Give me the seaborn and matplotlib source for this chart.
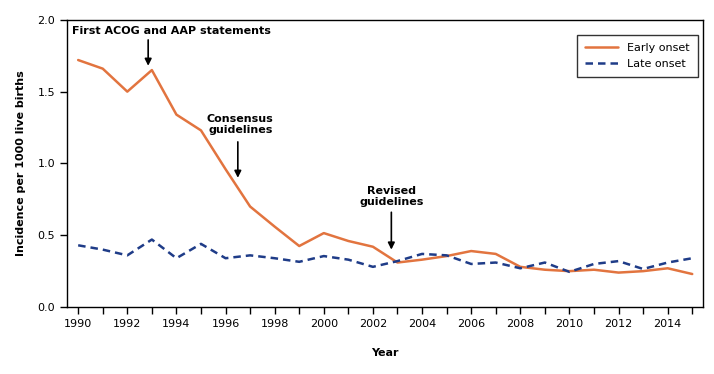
import pandas as pd
import matplotlib.pyplot as plt
import seaborn as sns

# values
years = list(range(1990, 2016))
early_onset = [1.72, 1.66, 1.50, 1.65, 1.34, 1.23, 0.96, 0.70, 0.56, 0.425, 0.515, 0.46, 0.42,
               0.31, 0.33, 0.355, 0.39, 0.37, 0.28, 0.26, 0.25, 0.26, 0.24, 0.25, 0.27, 0.23]
late_onset = [0.43, 0.40, 0.36, 0.47, 0.34, 0.44, 0.34, 0.36, 0.34, 0.315, 0.355, 0.33, 0.28,
              0.32, 0.37, 0.36, 0.30, 0.31, 0.27, 0.31, 0.245, 0.30, 0.32, 0.265, 0.31, 0.34]

df = pd.DataFrame({
    "Year": years * 2,
    "Incidence": early_onset + late_onset,
    "Series": ["Early onset"] * len(years) + ["Late onset"] * len(years),
})

sns.set_style("ticks")
plt.rcParams["font.family"] = ["DejaVu Sans"]
plt.rcParams["text.color"] = "black"
plt.rcParams["axes.labelcolor"] = "black"

fig = plt.figure(figsize=(7.14, 3.74), dpi=100)
ax = fig.add_axes([0.094, 0.179, 0.891, 0.768])

sns.lineplot(data=df, x="Year", y="Incidence", hue="Series", style="Series",
             palette={"Early onset": "#E2743F", "Late onset": "#1F3C88"},
             dashes={"Early onset": "", "Late onset": (3, 2)},
             linewidth=1.8, ax=ax)

ax.set_xlim(1989.55, 2015.45)
ax.set_ylim(0, 2.0)
ax.set_xticks(range(1990, 2016))
ax.set_xticklabels([str(y) if y % 2 == 0 else "" for y in range(1990, 2016)])
ax.set_yticks([0, 0.5, 1.0, 1.5, 2.0])
ax.set_yticklabels(["0.0", "0.5", "1.0", "1.5", "2.0"])
ax.tick_params(labelsize=8, length=5, width=1, colors="black")
for s in ax.spines.values():
    s.set_visible(True)
    s.set_color("black")
    s.set_linewidth(1)

ax.set_xlabel("Year", fontsize=8, fontweight="bold", labelpad=14)
ax.set_ylabel("Incidence per 1000 live births", fontsize=8, fontweight="bold", labelpad=8)

# annotation texts and vertical arrows
arrow = dict(arrowstyle="-|>", color="black", lw=1.2, mutation_scale=10, shrinkA=0, shrinkB=0)
ax.text(1989.75, 1.925, "First ACOG and AAP statements", ha="left", va="center",
        fontsize=8, fontweight="bold")
ax.annotate("", xy=(1992.85, 1.68), xytext=(1992.85, 1.86), arrowprops=arrow)

ax.text(1996.6, 1.27, "Consensus\nguidelines", ha="center", va="center",
        fontsize=8, fontweight="bold", linespacing=1.05)
ax.annotate("", xy=(1996.5, 0.90), xytext=(1996.5, 1.15), arrowprops=arrow)

ax.text(2002.75, 0.77, "Revised\nguidelines", ha="center", va="center",
        fontsize=8, fontweight="bold", linespacing=1.05)
ax.annotate("", xy=(2002.75, 0.40), xytext=(2002.75, 0.66), arrowprops=arrow)

leg = ax.legend(title=None, loc="upper right", fontsize=8, frameon=True, fancybox=False,
                handlelength=3, borderpad=0.7, bbox_to_anchor=(1.0, 0.965))
leg.get_frame().set_edgecolor("black")
leg.get_frame().set_linewidth(1)

fig.savefig("out.png", dpi=100)
